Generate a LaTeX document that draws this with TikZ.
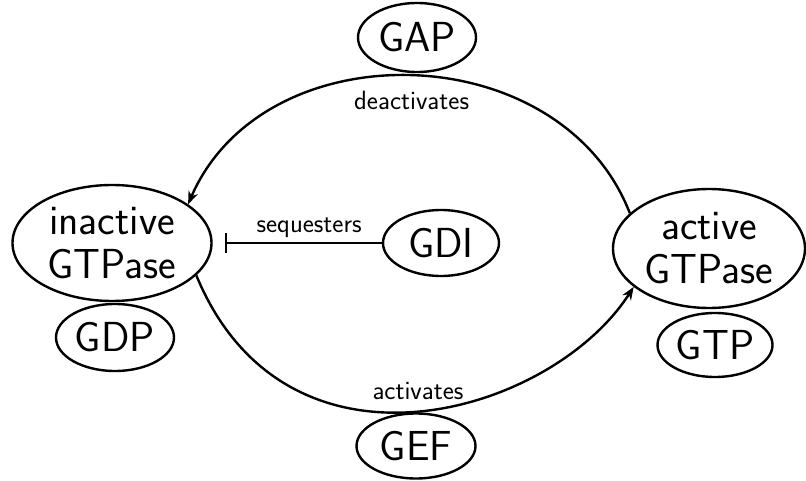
\documentclass[tikz,border=0pt]{standalone}
\usetikzlibrary{arrows.meta,shapes.geometric}
\begin{document}
\begin{tikzpicture}[x=1pt,y=-1pt,line width=2.4pt,
  ell/.style={ellipse,draw,inner sep=0pt,align=center,
    font=\sffamily\fontsize{42}{44}\selectfont},
  lbl/.style={font=\sffamily\fontsize{26.5}{30}\selectfont,inner sep=0pt},
  arr/.style={-{Stealth[length=13pt,width=10pt]}}]
\useasboundingbox (0,0) rectangle (806,481);
\node[ell,minimum width=199pt,minimum height=116pt] (inactive) at (112,243) {inactive\\GTPase};
\node[ell,minimum width=118pt,minimum height=67pt] (GDP) at (115,337.5) {GDP};
\node[ell,minimum width=118pt,minimum height=69pt] (GAP) at (417,37.5) {GAP};
\node[ell,minimum width=116pt,minimum height=66pt] (GDI) at (441,243) {GDI};
\node[ell,minimum width=192pt,minimum height=119pt] (active) at (709,248.5) {active\\GTPase};
\node[ell,minimum width=115pt,minimum height=64pt] (GTP) at (715,345) {GTP};
\node[ell,minimum width=119pt,minimum height=65pt] (GEF) at (416,446) {GEF};
\draw[arr] (active.156) .. controls +(-69,-178) and +(76,-176) ..
  node[lbl,pos=0.5,anchor=base,yshift=-34pt] {deactivates} (inactive.27);
\draw[arr] (inactive.-21) .. controls +(90,218) and +(-82,128) ..
  node[lbl,pos=0.5,anchor=base,yshift=11pt] {activates} (active.207);
\draw[-{Bar[width=20pt]},shorten >=12pt] (GDI) --
  node[lbl,pos=0.43,anchor=base,yshift=10pt] {sequesters} (inactive);
\end{tikzpicture}
\end{document}
